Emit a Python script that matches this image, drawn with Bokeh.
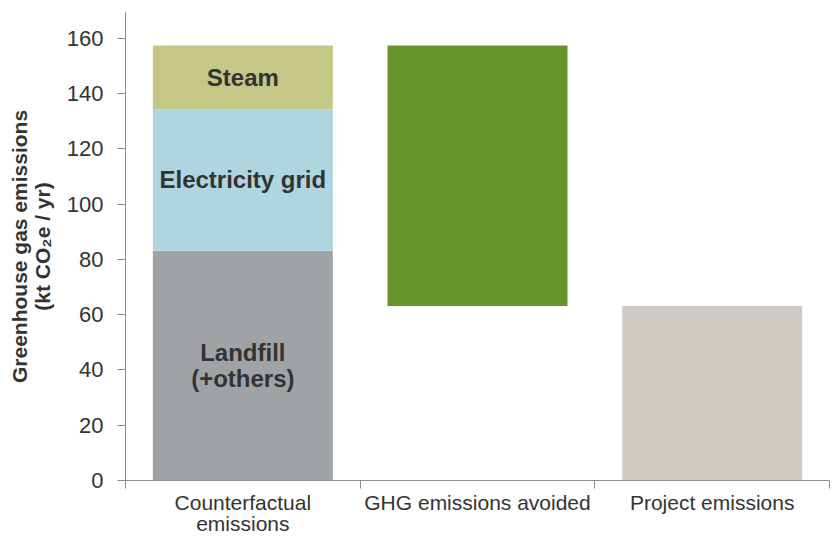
from bokeh.plotting import figure
from bokeh.models import Range1d, FixedTicker, ColumnDataSource
from bokeh.core.properties import value
from bokeh.embed import file_html
from bokeh.resources import INLINE

# ---- data ----
categories = ["Counterfactual\nemissions", "GHG emissions avoided", "Project emissions"]
landfill = 83.2
electricity = 51.2
steam = 23.1
avoided_low = 63.2
avoided_high = 157.5
project = 63.2
y_ticks = [0, 20, 40, 60, 80, 100, 120, 140, 160]
seg_labels = ["Steam", "Electricity grid", "Landfill\n(+others)"]

FONT = "Liberation Sans"
centers = [i + 0.5 for i in range(len(categories))]
bounds = list(range(len(categories) + 1))
BW = 0.767

p = figure(width=837, height=538, output_backend="svg", toolbar_location=None,
           x_range=Range1d(0, 3), y_range=Range1d(0, 169.4),
           min_border_left=125, min_border_right=8, min_border_top=12, min_border_bottom=56)
p.outline_line_color = None
p.grid.visible = False
p.background_fill_color = "white"
p.border_fill_color = "white"

# stacked counterfactual bar
b1 = 0
t1 = landfill
t2 = t1 + electricity
t3 = t2 + steam
p.vbar(x=[centers[0]], bottom=[b1], top=[t1], width=BW, fill_color="#a0a3a6", line_color=None)
p.vbar(x=[centers[0]], bottom=[t1], top=[t2], width=BW, fill_color="#afd6e0", line_color=None)
p.vbar(x=[centers[0]], bottom=[t2], top=[t3], width=BW, fill_color="#c5c787", line_color=None)
# avoided
p.vbar(x=[centers[1]], bottom=[avoided_low], top=[avoided_high], width=BW, fill_color="#68952b", line_color=None)
# project
p.vbar(x=[centers[2]], bottom=[0], top=[project], width=BW, fill_color="#d0ccc5", line_color=None)

# segment labels
lab_src = ColumnDataSource(dict(
    x=[centers[0]] * 3,
    y=[(t2 + t3) / 2, (t1 + t2) / 2, (b1 + t1) / 2],
    text=seg_labels,
))
p.text(x="x", y="y", text="text", source=lab_src, text_align="center", text_baseline="middle",
       text_font=value(FONT), text_font_style="bold", text_font_size="24px",
       text_color="#333333", text_line_height=0.97)

# y axis
ya = p.yaxis[0]
ya.ticker = FixedTicker(ticks=y_ticks)
ya.axis_line_color = "#8c8c8c"
ya.major_tick_line_color = "#8c8c8c"
ya.major_tick_in = 0
ya.major_tick_out = 8
ya.minor_tick_line_color = None
ya.major_label_text_font = FONT
ya.major_label_text_font_size = "22px"
ya.major_label_text_color = "#333333"
ya.major_label_standoff = 14
ya.axis_label = "Greenhouse gas emissions\n(kt CO\u2082e / yr)"
ya.axis_label_text_font = FONT
ya.axis_label_text_font_style = "bold"
ya.axis_label_text_font_size = "21px"
ya.axis_label_text_color = "#333333"
ya.axis_label_text_line_height = 0.98
ya.axis_label_standoff = 10

# x axis: labels at centers, tick marks at boundaries (minor ticks)
xa = p.xaxis[0]
xa.ticker = FixedTicker(ticks=centers, minor_ticks=bounds)
xa.major_label_overrides = {c: lab for c, lab in zip(centers, categories)}
xa.axis_line_color = "#8c8c8c"
xa.major_tick_line_color = None
xa.major_tick_in = 0
xa.major_tick_out = 0
xa.minor_tick_line_color = "#8c8c8c"
xa.minor_tick_in = 0
xa.minor_tick_out = 8
xa.major_label_text_font = FONT
xa.major_label_text_font_size = "21px"
xa.major_label_text_color = "#333333"
xa.major_label_text_line_height = 0.94
xa.major_label_standoff = 2

open("out.html", "w").write(file_html(p, INLINE))
